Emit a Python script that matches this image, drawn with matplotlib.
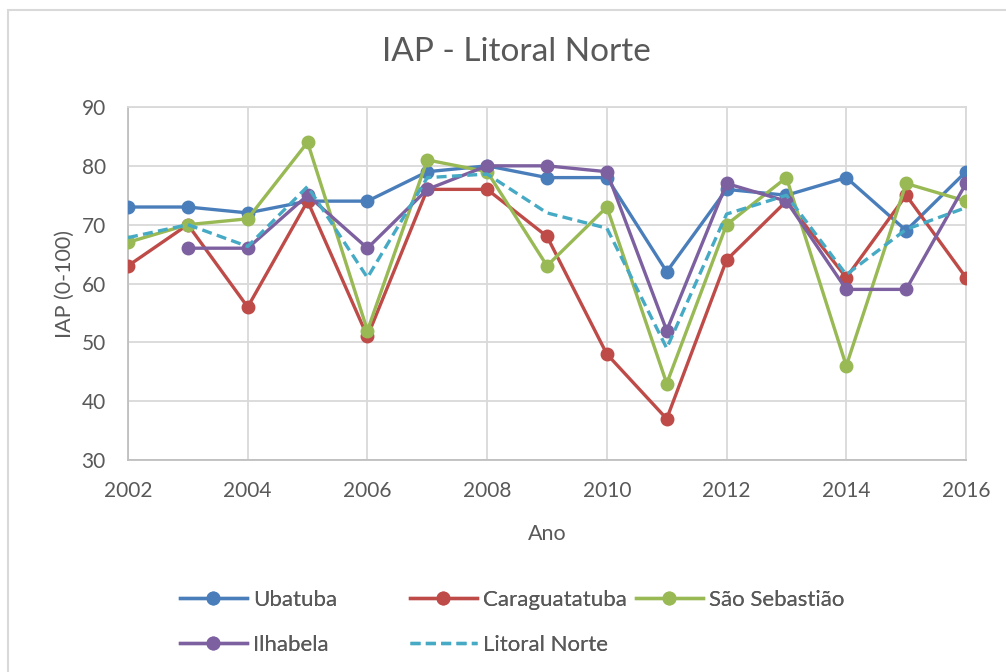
import numpy as np
import matplotlib
matplotlib.use('Agg')
import matplotlib.pyplot as plt
from matplotlib.lines import Line2D
from matplotlib.patches import Rectangle

plt.rcParams['font.family'] = ['Lato', 'DejaVu Sans']

anos = [2002, 2003, 2004, 2005, 2006, 2007, 2008, 2009, 2010,
        2011, 2012, 2013, 2014, 2015, 2016]
ubatuba = [73, 73, 72, 74, 74, 79, 80, 78, 78, 62, 76, 75, 78, 69, 79]
caraguatatuba = [63, 70, 56, 74, 51, 76, 76, 68, 48, 37, 64, 74, 61, 75, 61]
sao_sebastiao = [67, 70, 71, 84, 52, 81, 79, 63, 73, 43, 70, 78, 46, 77, 74]
ilhabela = [np.nan, 66, 66, 75, 66, 76, 80, 80, 79, 52, 77, 74, 59, 59, 77]
litoral_norte = [67.8, 70, 66.3, 76.5, 61, 78, 78.6, 72, 69.4, 49, 71.8, 75, 61.5, 69.2, 72.9]

series = [
    ('Ubatuba', ubatuba, '#4A7EBB', '-', 'o'),
    ('Caraguatatuba', caraguatatuba, '#BE4B48', '-', 'o'),
    ('São Sebastião', sao_sebastiao, '#98B954', '-', 'o'),
    ('Ilhabela', ilhabela, '#7D60A0', '-', 'o'),
    ('Litoral Norte', litoral_norte, '#46AAC5', '--', None),
]

W, H = 1006, 672
fig = plt.figure(figsize=(W / 100, H / 100), dpi=100)
fig.patch.set_facecolor('white')

# chart area border (cut on the right and bottom as in the screenshot)
fig.patches.append(Rectangle((8 / W, -0.05), 1.1, 1 - 10 / H + 0.05,
                             transform=fig.transFigure, fill=False,
                             edgecolor='#D9D9D9', linewidth=1.5))

ax = fig.add_axes([128 / W, 1 - 460 / H, 838 / W, 353 / H])
grid_col = '#D9D9D9'
text_col = '#595959'

for name, vals, col, ls, mk in series:
    ax.plot(anos, vals, color=col, linestyle=ls, linewidth=2.4,
            marker=mk, markersize=9, label=name, zorder=3,
            dashes=(3, 1.6) if ls == '--' else (None, None))

ax.set_xlim(2002, 2016)
ax.set_ylim(30, 90)
ax.set_xticks(range(2002, 2017, 2))
ax.set_yticks(range(30, 91, 10))
ax.grid(True, color=grid_col, linewidth=1.3)
ax.set_axisbelow(True)
for s in ax.spines.values():
    s.set_color(grid_col)
    s.set_linewidth(1.3)
ax.spines['left'].set_color('#BFBFBF')
ax.spines['bottom'].set_color('#BFBFBF')
ax.tick_params(axis='x', length=0, labelsize=15, labelcolor=text_col, pad=15)
ax.tick_params(axis='y', length=0, labelsize=15, labelcolor=text_col, pad=16)

fig.text(516 / W, 1 - 52 / H, 'IAP - Litoral Norte', fontsize=24,
         color=text_col, ha='center', va='center')
ax.set_xlabel('Ano', fontsize=15.5, color=text_col, labelpad=17)
ax.set_ylabel('IAP (0-100)', fontsize=15.5, color=text_col, labelpad=5)

# legend entries laid out like the Excel legend (equal column widths)
legend_pos = [(180, 600), (410, 600), (636, 600), (180, 645), (410, 645)]
for (name, vals, col, ls, mk), (px, py) in zip(series, legend_pos):
    h = Line2D([], [], color=col, linestyle=ls, linewidth=2.4, marker=mk,
               markersize=9, dashes=(3, 1.6) if ls == '--' else (None, None))
    lg = fig.legend([h], [name], loc='center left',
                    bbox_to_anchor=(px / W, 1 - py / H),
                    frameon=False, fontsize=16, borderpad=0, borderaxespad=0,
                    handlelength=3.0, handletextpad=0.3, labelcolor=text_col)
    fig.add_artist(lg)

fig.savefig('out.png', dpi=100)
